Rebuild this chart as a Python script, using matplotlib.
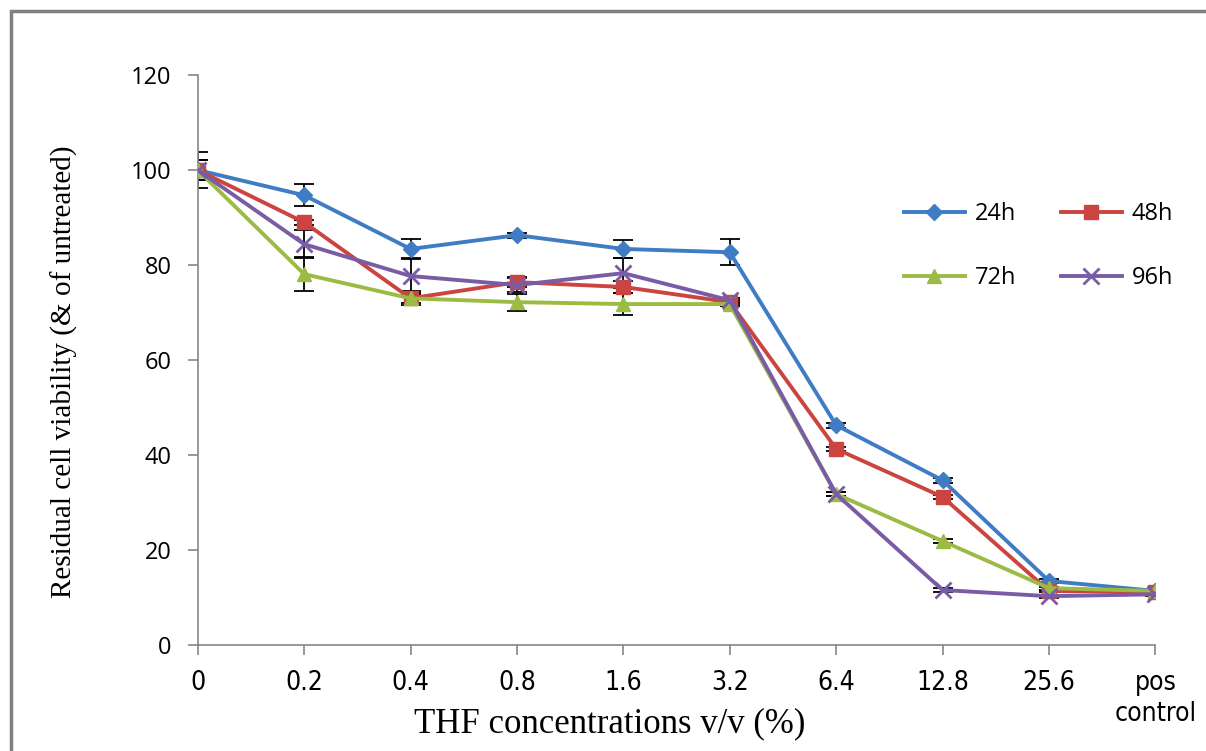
import numpy as np
import matplotlib
matplotlib.use("Agg")
import matplotlib.pyplot as plt
from matplotlib.patches import Rectangle

# categories on the x axis
categories = ["0", "0.2", "0.4", "0.8", "1.6", "3.2", "6.4", "12.8", "25.6", "pos\ncontrol"]

# residual viability (% of untreated)
v24 = [100, 94.7, 83.4, 86.3, 83.4, 82.7, 46.3, 34.7, 13.5, 11.4]
v48 = [100, 89.0, 73.0, 76.4, 75.4, 72.2, 41.3, 31.2, 11.4, 11.2]
v72 = [100, 78.1, 73.0, 72.2, 71.8, 71.8, 31.8, 21.9, 12.0, 11.4]
v96 = [100, 84.4, 77.7, 75.8, 78.3, 72.6, 31.8, 11.6, 10.3, 10.7]

# error bar half widths
e24 = [3.8, 2.3, 2.0, 0.5, 1.8, 2.7, 0.5, 0.5, 0.5, 0.3]
e48 = [2.1, 0.5, 1.0, 1.0, 1.2, 0.5, 0.5, 0.5, 0.3, 0.3]
e72 = [2.1, 3.6, 1.5, 1.8, 2.3, 0.5, 0.5, 0.5, 0.3, 0.3]
e96 = [2.1, 3.0, 3.5, 1.5, 3.2, 0.5, 0.5, 0.5, 0.3, 0.3]

x = np.arange(len(categories))

fig = plt.figure(figsize=(12.06, 7.51), dpi=100)
ax = fig.add_axes([0.164, 0.141, 0.794, 0.759])

# outer frame like the pasted excel chart
fig.patches.append(Rectangle((0.009, -0.01), 1.0, 0.995, transform=fig.transFigure,
                             fill=False, edgecolor="#7f7f7f", linewidth=2.5))

series = [
    ("24h", v24, e24, "#3F7CC4", "D", 8),
    ("48h", v48, e48, "#CC4440", "s", 10),
    ("72h", v72, e72, "#9BBB45", "^", 10),
    ("96h", v96, e96, "#7A5CA6", "x", 11),
]

for name, vals, err, col, mk, ms in series:
    ax.errorbar(x, vals, yerr=err, fmt="none", ecolor="black", elinewidth=1.3,
                capsize=7, capthick=1.3, zorder=2)
lines = {}
for name, vals, err, col, mk, ms in series:
    lines[name], = ax.plot(x, vals, color=col, marker=mk, markersize=ms, linewidth=2.8,
                           markeredgewidth=2 if mk == "x" else 1, label=name, zorder=3)

ax.set_xlim(0, 9)
ax.set_ylim(0, 120)
ax.set_yticks(np.arange(0, 121, 20))
ax.set_xticks(x)
ax.set_xticklabels(categories, fontsize=19, family="DejaVu Sans", fontstretch="condensed",
                   linespacing=1.25)
for lab in ax.get_yticklabels():
    lab.set_fontsize(17)
    lab.set_family(["Open Sans", "DejaVu Sans"])

for s in ["top", "right"]:
    ax.spines[s].set_visible(False)
for s in ["left", "bottom"]:
    ax.spines[s].set_color("#868686")
    ax.spines[s].set_linewidth(1.2)
ax.tick_params(axis="both", colors="#868686", length=7, width=1.2, labelcolor="black")
ax.tick_params(axis="y", pad=12)
ax.tick_params(axis="x", pad=11)

ax.set_xlabel("THF concentrations v/v (%)", family="Liberation Serif", fontsize=25)
ax.xaxis.set_label_coords(0.43, -0.109)
ax.set_ylabel("Residual cell viability (& of untreated)", family="Liberation Serif",
              fontsize=21)
ax.yaxis.set_label_coords(-0.125, 0.479)

# excel fills the legend row by row
order = ["24h", "72h", "48h", "96h"]
ax.legend([lines[k] for k in order], order, ncol=2, frameon=False, loc="upper left",
          bbox_to_anchor=(0.715, 0.815), handlelength=2.6, handletextpad=0.4,
          columnspacing=1.9, labelspacing=1.7,
          prop={"family": ["Open Sans", "DejaVu Sans"], "size": 17})

fig.savefig("out.png", dpi=100)
